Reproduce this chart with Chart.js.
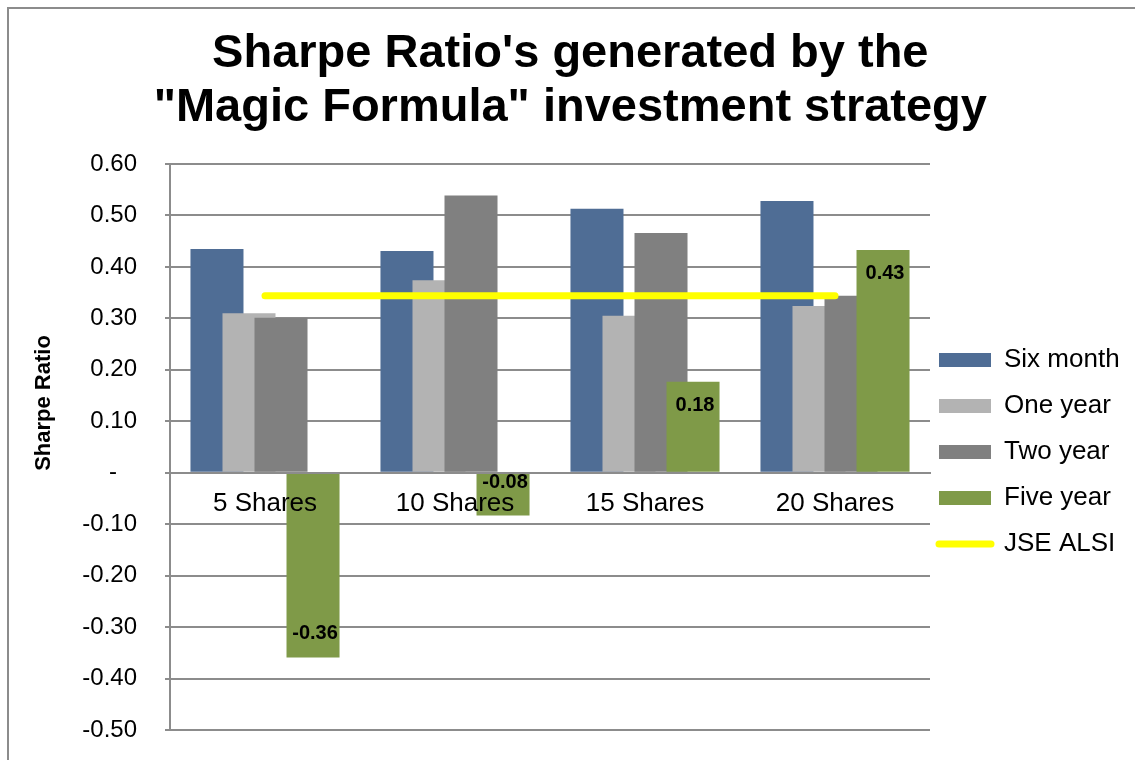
<!doctype html>
<html>
<head>
<title>Sharpe Ratio's - Magic Formula</title>
<script src="https://cdn.jsdelivr.net/npm/chart.js@4.4.1/dist/chart.umd.min.js"></script>
<style>
body { margin: 0; background: #ffffff; overflow: hidden; }
canvas { display: block; }
</style>
</head>
<body>
	<canvas id="canvas" width="1135" height="760"></canvas>

	<script>
		// values
		var categories = ['5 Shares', '10 Shares', '15 Shares', '20 Shares'];
		var sixMonth   = [0.435, 0.431, 0.513, 0.528];
		var oneYear    = [0.310, 0.374, 0.305, 0.324];
		var twoYear    = [0.301, 0.539, 0.466, 0.344];
		var fiveYear   = [-0.359, -0.083, 0.177, 0.433];
		var jseAlsi    = [0.344, 0.344, 0.344, 0.344];

		var FONT = "'Liberation Sans', Arial, sans-serif";
		var GRID = '#8c8c8c';

		// where the plot area sits in the reference
		var target = { left: 170, top: 164, right: 930, bottom: 730 };
		var pad = { right: 0, bottom: 30, titleBottom: 30 };

		function tickText(v)
		{
			if (Math.abs(v) < 1e-9) return '-   ';
			return v.toFixed(2);
		}

		// excel draws later series over earlier ones, chart.js does the opposite
		var drawInOrder = {
			id: 'drawInOrder',
			beforeDatasetsDraw: function(chart) {
				chart.getSortedVisibleDatasetMetas().forEach(function(meta) {
					meta.controller.draw();
				});
				return false;
			}
		};

		var frameAndLabels = {
			id: 'frameAndLabels',
			afterLayout: function(chart) {
				// legend sits right next to the plot, centred on it
				var lg = chart.legend;
				var dx = chart.chartArea.right + 9 - lg.options.labels.padding - lg.left;
				lg.left += dx; lg.right += dx;
				lg.top = chart.chartArea.top + 5;
				lg.bottom = chart.chartArea.bottom + 5;
			},
			beforeDraw: function(chart) {
				var c = chart.ctx;
				c.save();
				c.fillStyle = '#fff';
				c.fillRect(0, 0, chart.width, chart.height);
				c.strokeStyle = GRID;
				c.lineWidth = 2;
				c.beginPath();
				c.moveTo(8, chart.height);
				c.lineTo(8, 8);
				c.lineTo(chart.width, 8);
				c.stroke();
				c.restore();
			},
			afterDraw: function(chart) {
				var c = chart.ctx;
				c.save();
				// axis title
				c.font = 'bold 22px ' + FONT;
				c.fillStyle = '#000';
				c.textAlign = 'center';
				c.textBaseline = 'middle';
				c.translate(44, 403);
				c.rotate(-Math.PI / 2);
				c.fillText('Sharpe Ratio', 0, 0);
				c.restore();

				// data labels on the five year bars, inside end
				var meta = chart.getDatasetMeta(3);
				c.save();
				c.font = 'bold 20px ' + FONT;
				c.fillStyle = '#000';
				c.textAlign = 'center';
				c.textBaseline = 'middle';
				meta.data.forEach(function(bar, i) {
					var v = fiveYear[i];
					var len = Math.abs(bar.base - bar.y);
					var y;
					if (len < 60) {
						y = bar.base + (v < 0 ? 9 : -9);
					} else {
						y = bar.y + (v < 0 ? -24 : 24);
					}
					c.fillText(v.toFixed(2), bar.x + 2, y);
				});
				c.restore();
			}
		};

		// bars are wider than their slots so they overlap like excel's
		function barSet(label, data, color)
		{
			return {
				label: label,
				data: data,
				backgroundColor: color,
				borderWidth: 0,
				categoryPercentage: 0.674,
				barPercentage: 1.656
			};
		}

		function makeConfig()
		{
			return {
				type: 'bar',
				data: {
					labels: categories,
					datasets: [
						barSet('Six month', sixMonth, '#4f6d95'),
						barSet('One year', oneYear, '#b3b3b3'),
						barSet('Two year', twoYear, '#808080'),
						barSet('Five year', fiveYear, '#7f9a48'),
						{
							type: 'line',
							label: 'JSE ALSI',
							data: jseAlsi,
							borderColor: '#ffff00',
							backgroundColor: '#ffff00',
							borderWidth: 7,
							borderCapStyle: 'round',
							pointRadius: 0,
							fill: false
						}
					]
				},
				options: {
					responsive: false,
					animation: false,
					layout: {
						padding: { left: 0, top: 0, right: pad.right, bottom: pad.bottom }
					},
					plugins: {
						tooltip: { enabled: false },
						title: {
							display: true,
							text: ["Sharpe Ratio's generated by the", '"Magic Formula" investment strategy'],
							color: '#000',
							font: { family: FONT, size: 47, weight: 'bold', lineHeight: 1.15 },
							padding: { top: 27, bottom: pad.titleBottom }
						},
						legend: {
							position: 'right',
							labels: {
								color: '#000',
								font: { family: FONT, size: 26 },
								padding: 20,
								usePointStyle: true,
								pointStyleWidth: 52,
								boxHeight: 14,
								generateLabels: function(chart) {
									return chart.data.datasets.map(function(ds, i) {
										var isLine = ds.type === 'line';
										return {
											text: ds.label,
											datasetIndex: i,
											fillStyle: ds.backgroundColor,
											strokeStyle: isLine ? ds.borderColor : ds.backgroundColor,
											lineWidth: isLine ? 7 : 0,
											lineCap: 'round',
											pointStyle: isLine ? 'line' : 'rect',
											fontColor: '#000',
											hidden: false
										};
									});
								}
							}
						}
					},
					scales: {
						x: {
							position: { y: 0 },
							grid: { display: false, drawTicks: false },
							border: { display: true, color: GRID, width: 2, z: 1 },
							ticks: {
								z: 1,
								color: '#000',
								font: { family: FONT, size: 26 },
								padding: 16
							}
						},
						y: {
							min: -0.5,
							max: 0.6,
							afterFit: function(scale) {
								scale.width = target.left;
								// the big label gap is horizontal only
								scale.paddingTop = 15;
								scale.paddingBottom = 15;
							},
							grid: { color: GRID, lineWidth: 2, tickLength: 5 },
							border: { display: true, color: GRID, width: 2 },
							ticks: {
								stepSize: 0.1,
								color: '#000',
								font: { family: FONT, size: 24 },
								padding: 28,
								callback: function(v) { return tickText(v); }
							}
						}
					}
				},
				plugins: [drawInOrder, frameAndLabels]
			};
		}

		var canvas = document.getElementById('canvas');
		var chart = new Chart(canvas, makeConfig());

		// nudge the paddings until the plot area lands where the reference has it
		for (var pass = 0; pass < 3; pass++) {
			var area = chart.chartArea;
			pad.right += area.right - target.right;
			pad.bottom += area.bottom - target.bottom;
			pad.titleBottom += target.top - area.top;
			chart.destroy();
			canvas.width = 1135;
			canvas.height = 760;
			chart = new Chart(canvas, makeConfig());
		}
	</script>
</body>
</html>
